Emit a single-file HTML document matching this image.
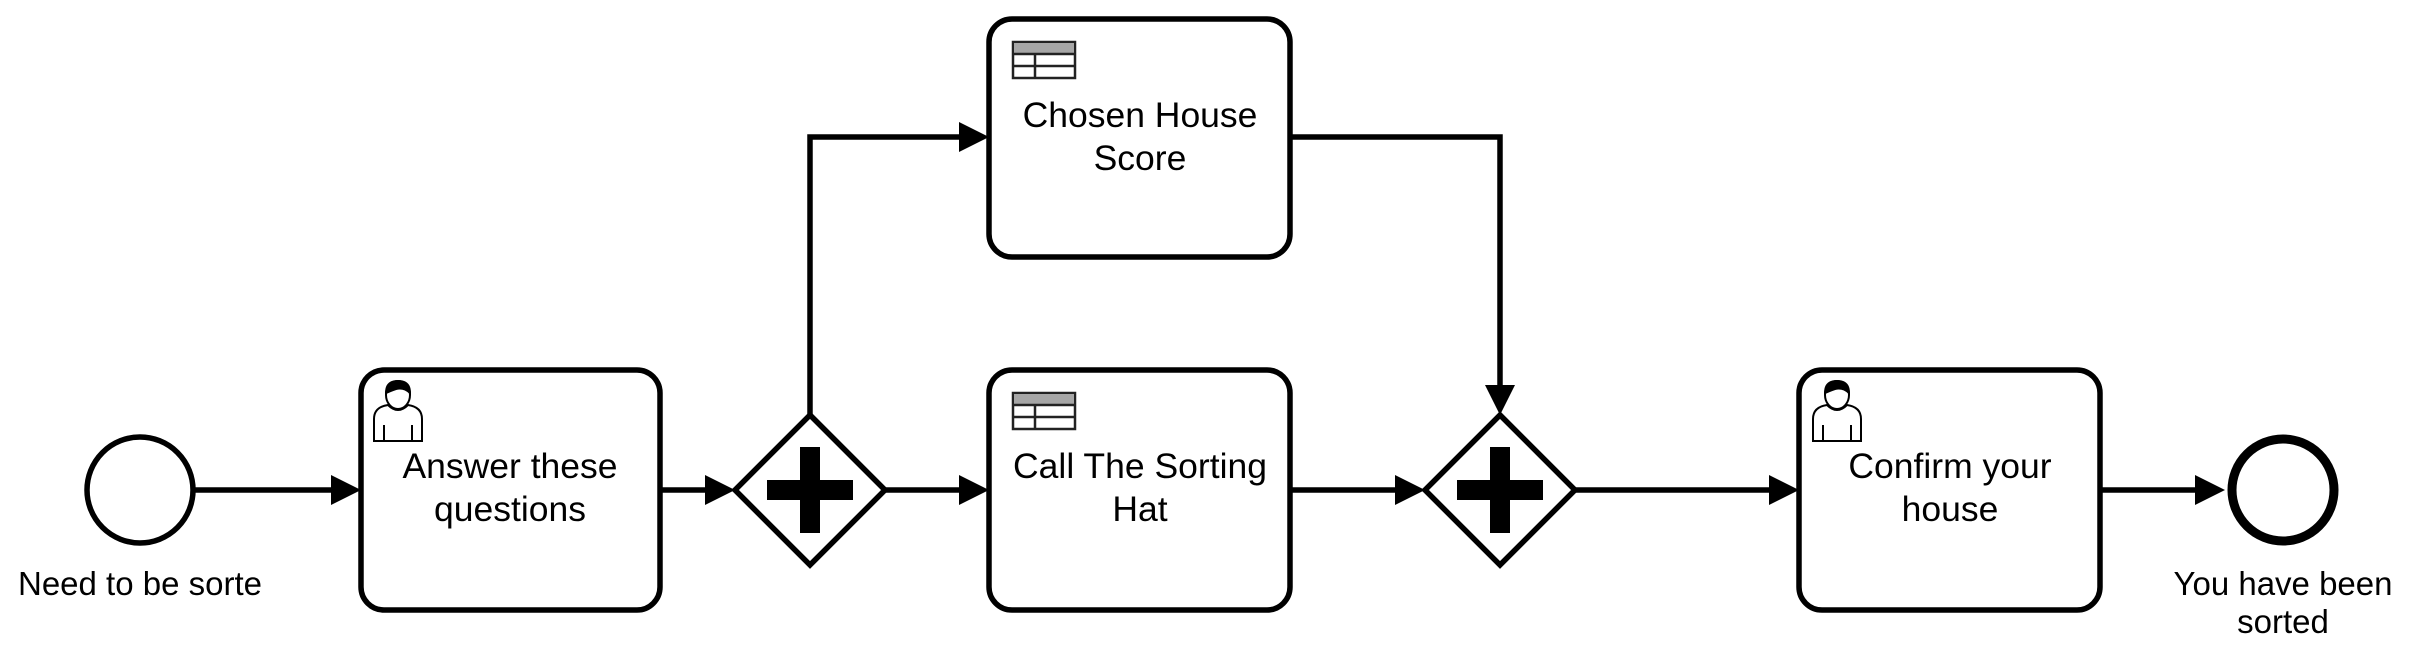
<!DOCTYPE html>
<html><head><meta charset="utf-8"><style>
html,body{margin:0;padding:0;background:#fff;}
svg{display:block;}
text{font-family:"Liberation Sans",Arial,sans-serif;font-size:35.5px;fill:#000;text-anchor:middle;}
text.lbl{font-size:33px;}
</style></head><body>
<svg width="2409" height="663" viewBox="0 0 2409 663" xmlns="http://www.w3.org/2000/svg">
<defs>
<g id="tbl">
<rect x="0" y="0" width="62" height="36" fill="#fff" stroke="#222" stroke-width="2.5"/>
<rect x="1" y="1" width="60" height="11" fill="#a6a6a6"/>
<line x1="0" y1="12" x2="62" y2="12" stroke="#222" stroke-width="2.5"/>
<line x1="0" y1="24" x2="62" y2="24" stroke="#222" stroke-width="2.5"/>
<line x1="22" y1="12" x2="22" y2="36" stroke="#222" stroke-width="2.5"/>
</g>
<g id="usr" fill="#fff" stroke="#000" stroke-width="2">
<path d="M2,62 L2,40 Q2,28 16,26 Q26,36 36,26 Q50,28 50,40 L50,62 Z"/>
<line x1="12" y1="46" x2="12" y2="62"/><line x1="40" y1="46" x2="40" y2="62"/>
<ellipse cx="26" cy="16" rx="12" ry="14"/>
<path d="M14,14 Q14,2 26,2 Q38,2 38,14 Q32,8 24,10 Q18,12 14,14 Z" fill="#000"/>
</g>
</defs>
<g stroke="#000" stroke-width="5.5" fill="none">
<line x1="194" y1="490" x2="336" y2="490"/>
<line x1="661" y1="490" x2="711" y2="490"/>
<line x1="885" y1="490" x2="964" y2="490"/>
<polyline points="810,415 810,137 964,137"/>
<line x1="1291" y1="490" x2="1400" y2="490"/>
<polyline points="1291,137 1500,137 1500,390"/>
<line x1="1575" y1="490" x2="1774" y2="490"/>
<line x1="2100" y1="490" x2="2200" y2="490"/>
</g>
<g fill="#000">
<polygon points="331,475 361,490 331,505"/>
<polygon points="705,475 735,490 705,505"/>
<polygon points="959,475 989,490 959,505"/>
<polygon points="959,122 989,137 959,152"/>
<polygon points="1395,475 1425,490 1395,505"/>
<polygon points="1485,385 1500,415 1515,385"/>
<polygon points="1769,475 1799,490 1769,505"/>
<polygon points="2195,475 2225,490 2195,505"/>
</g>
<circle cx="140" cy="490" r="53" fill="#fff" stroke="#000" stroke-width="5.5"/>
<circle cx="2283" cy="490" r="51" fill="#fff" stroke="#000" stroke-width="9"/>
<g fill="#fff" stroke="#000" stroke-width="5.5">
<rect x="361" y="370" width="299" height="240" rx="23"/>
<rect x="989" y="19" width="301" height="238" rx="23"/>
<rect x="989" y="370" width="301" height="240" rx="23"/>
<rect x="1799" y="370" width="301" height="240" rx="23"/>
<polygon points="810,415 885,490 810,565 735,490"/>
<polygon points="1500,415 1575,490 1500,565 1425,490"/>
</g>
<g fill="#000">
<rect x="767" y="480" width="86" height="20"/><rect x="800" y="447" width="20" height="86"/>
<rect x="1457" y="480" width="86" height="20"/><rect x="1490" y="447" width="20" height="86"/>
</g>
<use href="#tbl" x="1013" y="42"/>
<use href="#tbl" x="1013" y="393"/>
<use href="#usr" x="372" y="379"/>
<use href="#usr" x="1811" y="379"/>
<text x="510" y="478">Answer these</text>
<text x="510" y="521">questions</text>
<text x="1140" y="127">Chosen House</text>
<text x="1140" y="170">Score</text>
<text x="1140" y="478">Call The Sorting</text>
<text x="1140" y="521">Hat</text>
<text x="1950" y="478">Confirm your</text>
<text x="1950" y="521">house</text>
<text class="lbl" x="140" y="595">Need to be sorte</text>
<text class="lbl" x="2283" y="595">You have been</text>
<text class="lbl" x="2283" y="633">sorted</text>
</svg>
</body></html>
